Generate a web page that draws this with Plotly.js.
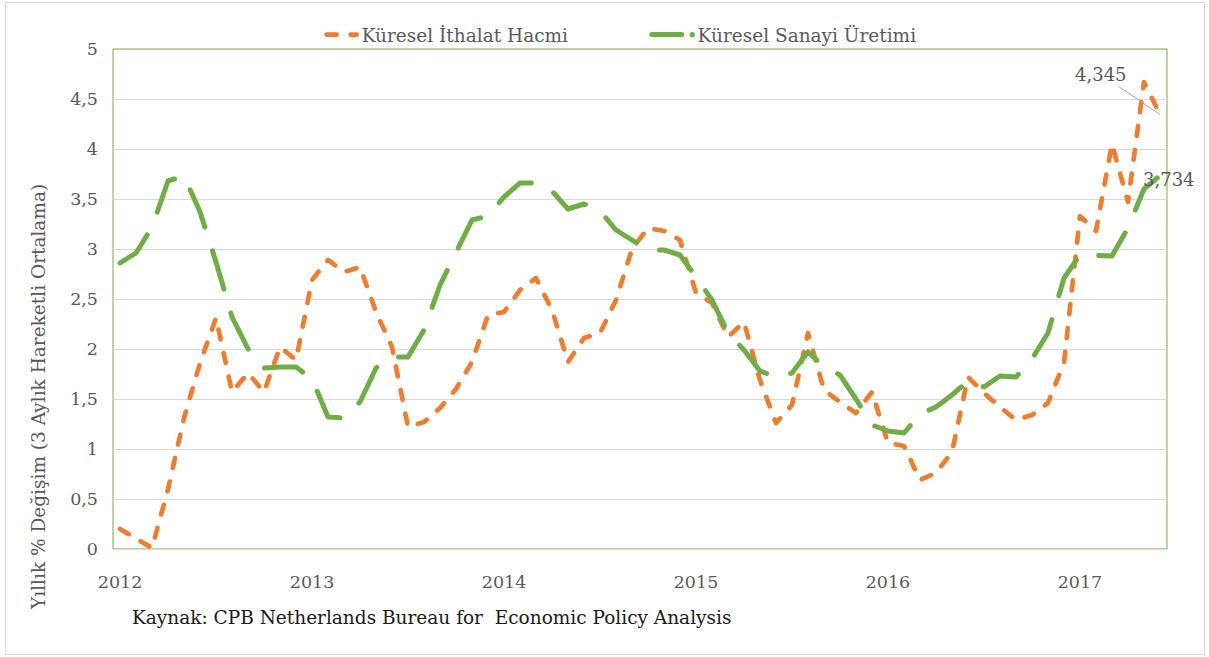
<!DOCTYPE html>
<html>
<head>
<meta charset="utf-8">
<script src="https://cdn.plot.ly/plotly-3.0.1.min.js"></script>
<style>
  html, body { margin: 0; padding: 0; background: #fff; }
  #plot { width: 1209px; height: 657px; }
  #frame { position: absolute; left: 5px; top: 2px; width: 1198px; height: 651px;
           border: 1px solid #d9d9d9; pointer-events: none; }
  .js-line { stroke-linecap: round; stroke-linejoin: round; }
</style>
</head>
<body>
<div id="plot"></div>
<div id="frame"></div>
<script>
// monthly data, Jan 2012 - Jun 2017
const startYear = 2012
const nMonths = 66
let months = []
for (let i = 0; i < nMonths; i++) {
  let y = startYear + Math.floor(i / 12)
  let m = (i % 12) + 1
  months.push(y + '-' + (m < 10 ? '0' + m : m))
}

const yearTicks = ['2012-01', '2013-01', '2014-01', '2015-01', '2016-01', '2017-01']
const yearLabels = ['2012', '2013', '2014', '2015', '2016', '2017']

// Küresel İthalat Hacmi
const ithalat = [
  0.20, 0.10, 0.01, 0.60, 1.31, 1.86, 2.31, 1.57, 1.76, 1.57, 2.02, 1.89,
  2.69, 2.89, 2.77, 2.82, 2.37, 2.02, 1.22, 1.27, 1.41, 1.60, 1.87, 2.34,
  2.37, 2.59, 2.71, 2.39, 1.87, 2.11, 2.16, 2.49, 3.00, 3.21, 3.18, 3.09,
  2.56, 2.46, 2.12, 2.27, 1.69, 1.26, 1.44, 2.16, 1.59, 1.47, 1.36, 1.57,
  1.06, 1.03, 0.69, 0.76, 0.97, 1.72, 1.56, 1.42, 1.29, 1.34, 1.46, 1.86,
  3.33, 3.18, 4.05, 3.47, 4.67, 4.345
]

// Küresel Sanayi Üretimi
const sanayi = [
  2.86, 2.96, 3.22, 3.68, 3.73, 3.37, 2.87, 2.32, 2.00, 1.81, 1.82, 1.82,
  1.70, 1.32, 1.31, 1.47, 1.81, 1.92, 1.92, 2.19, 2.64, 2.96, 3.29, 3.33,
  3.52, 3.66, 3.66, 3.58, 3.40, 3.45, 3.38, 3.19, 3.09, 2.99, 2.99, 2.94,
  2.72, 2.49, 2.16, 1.99, 1.78, 1.72, 1.76, 1.97, 1.82, 1.74, 1.50, 1.24,
  1.18, 1.16, 1.35, 1.42, 1.54, 1.68, 1.62, 1.73, 1.72, 1.90, 2.16, 2.71,
  2.94, 2.93, 2.93, 3.21, 3.60, 3.734
]

const orange = '#ED7D31'
const green = '#70AD47'
const grey = '#595959'
const fontFam = '"DejaVu Serif", "Liberation Serif", serif'

var trace1 = {
  x: months,
  y: ithalat,
  mode: 'lines',
  name: 'Küresel İthalat Hacmi',
  line: { color: orange, width: 4.7, dash: '10px,14px' },
  type: 'scatter'
}

var trace2 = {
  x: months,
  y: sanayi,
  mode: 'lines',
  name: '<span style="color:' + green + '">•</span>Küresel Sanayi Üretimi',
  line: { color: green, width: 5, dash: '40px,25px' },
  type: 'scatter'
}

var last = months[months.length - 1]

var layout = {
  width: 1209,
  height: 657,
  margin: { l: 113, r: 42, t: 49, b: 108 },
  paper_bgcolor: '#fff',
  plot_bgcolor: '#fff',
  separators: ', ',
  font: { family: fontFam, color: grey, size: 18 },
  showlegend: true,
  legend: {
    orientation: 'h',
    x: 0.198, xanchor: 'left',
    y: 1.028, yanchor: 'middle',
    entrywidth: 280,
    font: { family: fontFam, size: 18.5, color: grey },
    bgcolor: 'rgba(0,0,0,0)'
  },
  xaxis: {
    type: 'category',
    range: [-0.44, 65.44],
    tickvals: yearTicks,
    ticktext: yearLabels,
    showgrid: false,
    zeroline: false,
    showline: true,
    linecolor: '#d9d9d9',
    linewidth: 1,
    ticks: '',
    ticklabelstandoff: 17,
    tickfont: { family: fontFam, size: 17.5, color: grey }
  },
  yaxis: {
    range: [0, 5],
    dtick: 0.5,
    showgrid: true,
    gridcolor: '#d9d9d9',
    gridwidth: 1,
    zeroline: false,
    showline: false,
    ticks: '',
    ticklabelstandoff: 14,
    tickfont: { family: fontFam, size: 17.5, color: grey }
  },
  shapes: [{
    type: 'rect', xref: 'paper', yref: 'paper',
    x0: 0, x1: 1, y0: 0, y1: 1,
    line: { color: green, width: 1 },
    layer: 'between'
  }],
  annotations: [
    {
      x: last, y: ithalat[ithalat.length - 1],
      text: '4,345', showarrow: true, arrowhead: 0, arrowwidth: 1,
      arrowcolor: '#a6a6a6', ax: -59, ay: -40,
      font: { family: fontFam, size: 18, color: grey }
    },
    {
      x: last, y: sanayi[sanayi.length - 1],
      text: '3,734', showarrow: false, xshift: 9, yshift: -4,
      font: { family: fontFam, size: 18, color: grey }
    },
    {
      xref: 'paper', yref: 'paper', x: -0.0712, y: 0.304,
      xanchor: 'center', yanchor: 'middle',
      text: 'Yıllık % Değişim (3 Aylık Hareketli Ortalama)',
      textangle: -90, showarrow: false,
      font: { family: fontFam, size: 18.5, color: grey }
    },
    {
      xref: 'paper', yref: 'paper', x: 0.0161, y: -0.136,
      xanchor: 'left', yanchor: 'middle',
      text: 'Kaynak: CPB Netherlands Bureau for  Economic Policy Analysis',
      showarrow: false,
      font: { family: fontFam, size: 18.5, color: '#1a1a1a' }
    }
  ]
}

Plotly.newPlot('plot', [trace1, trace2], layout, { displayModeBar: false, staticPlot: true })
</script>
</body>
</html>
